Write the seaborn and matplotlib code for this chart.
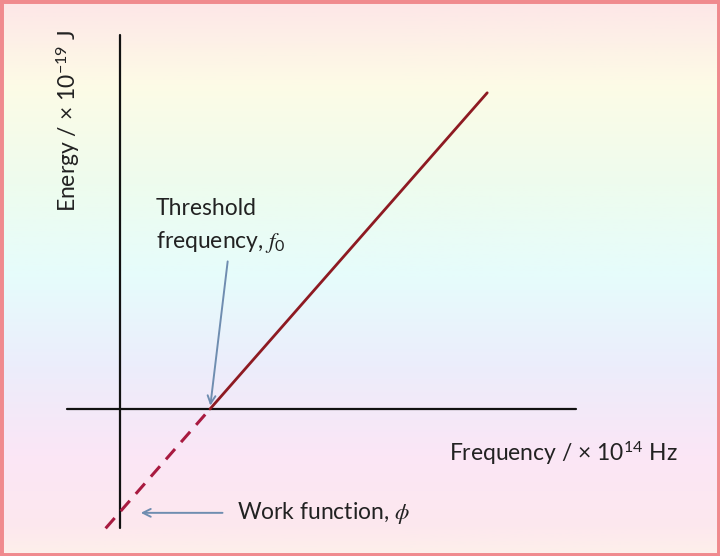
import numpy as np
import pandas as pd
import matplotlib
matplotlib.use("Agg")
import matplotlib.pyplot as plt
from matplotlib.colors import LinearSegmentedColormap
from matplotlib.patches import Rectangle
import seaborn as sns

# ---- data (frequency in 10^14 Hz, energy in 10^-19 J) ----
freq_solid = [5.0, 20.4]
energy_solid = [0.0, 10.2]
freq_dashed = [-0.8, 5.0]
energy_dashed = [-3.85, 0.0]
threshold_freq = 5.0
work_function = -3.3

sns.set_theme(style="white")
plt.rcParams["font.family"] = ["Lato", "DejaVu Sans"]
plt.rcParams["mathtext.fontset"] = "custom"
plt.rcParams["mathtext.rm"] = "Lato"
plt.rcParams["mathtext.it"] = "STIXGeneral:italic"

fig = plt.figure(figsize=(7.2, 5.56), dpi=100)
ax = fig.add_axes([0, 0, 1, 1])
ax.set_xlim(-6.667, 33.333)
ax.set_ylim(-4.742, 13.194)
ax.axis("off")

# background gradient (top -> bottom)
grad_colors = [
    (0.00, "#fde6e8"),
    (0.15, "#fdfbe6"),
    (0.33, "#eefcee"),
    (0.50, "#e6fcfc"),
    (0.66, "#ecedfb"),
    (0.82, "#fbe6f6"),
    (0.95, "#fde8ee"),
    (1.00, "#fdf0ea"),
]
cmap = LinearSegmentedColormap.from_list("bg", grad_colors)
grad = np.linspace(0, 1, 256).reshape(-1, 1)
ax.imshow(grad, cmap=cmap, aspect="auto", extent=(0, 1, 0, 1),
          transform=ax.transAxes, origin="upper", zorder=0)

# axes lines
ax.plot([-2.94, 25.33], [0, 0], color="#111111", lw=1.6, zorder=2)
ax.plot([0, 0], [-3.84, 12.06], color="#111111", lw=1.6, zorder=2)

# photoelectric line
sns.lineplot(x=freq_solid, y=energy_solid, ax=ax, color="#8e1a22", lw=2.0, zorder=3)
sns.lineplot(x=freq_dashed, y=energy_dashed, ax=ax, color="#a81a40", lw=2.2,
             zorder=3, linestyle=(0, (4.5, 3)))

arrow_col = "#6f8db0"
fs = 16.5
# threshold arrow
ax.annotate("", xy=(threshold_freq, 0.02), xytext=(6.0, 4.85),
            arrowprops=dict(arrowstyle="->", color=arrow_col, lw=1.4,
                            mutation_scale=14), zorder=4)
ax.text(2.0, 6.47, "Threshold", fontsize=fs, color="#222222",
        ha="left", va="center")
ax.text(2.0, 5.4, r"frequency, $f_0$", fontsize=fs, color="#222222",
        ha="left", va="center")

# work function arrow
ax.annotate("", xy=(1.0, work_function - 0.05), xytext=(5.85, work_function - 0.05),
            arrowprops=dict(arrowstyle="->", color=arrow_col, lw=1.4,
                            mutation_scale=14), zorder=4)
ax.text(6.5, work_function - 0.05, r"Work function, $\phi$", fontsize=fs,
        color="#222222", ha="left", va="center")

# axis titles
ax.text(18.3, -1.42, r"Frequency / × 10$^{14}$ Hz", fontsize=fs,
        color="#222222", ha="left", va="center")
ax.text(-2.9, 9.3, r"Energy / × 10$^{-19}$ J", fontsize=fs,
        color="#222222", ha="center", va="center", rotation=90)

# frame border
fig.patches.append(Rectangle((0, 0), 1, 1, transform=fig.transFigure,
                             fill=False, edgecolor="#f08a8e", lw=5,
                             zorder=10))

fig.savefig("out.png", dpi=100)
